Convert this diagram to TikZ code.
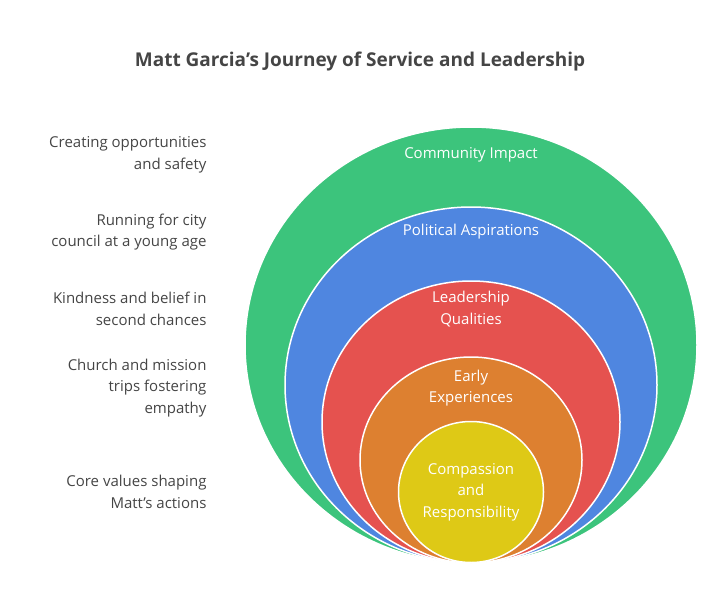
\documentclass[tikz,border=0pt]{standalone}
\usepackage{fontspec}
\setmainfont{Open Sans}
\usetikzlibrary{shapes.geometric}
\definecolor{ringgreen}{HTML}{3CC47C}
\definecolor{ringblue}{HTML}{4F86E0}
\definecolor{ringred}{HTML}{E5524F}
\definecolor{ringorange}{HTML}{DD8030}
\definecolor{ringyellow}{HTML}{DEC916}
\definecolor{txtgray}{HTML}{454545}
\begin{document}
\begin{tikzpicture}[x=1pt,y=-1pt]
	\tikzstyle{ring}=[ellipse,draw=white,line width=1.5pt,inner sep=0pt]
	\tikzstyle{inlabel}=[text=white,align=center,font=\fontsize{15}{21.5}\selectfont]
	\tikzstyle{sidelabel}=[text=txtgray,align=right,anchor=east,font=\fontsize{15}{21.5}\selectfont]
	\useasboundingbox (0,0) rectangle (720,610);

	\node [font=\bfseries\fontsize{19}{23}\selectfont,text=txtgray] (title) at (360,62) {Matt Garcia's Journey of Service and Leadership};

	% nested rings
	\node [ring,fill=ringgreen,minimum width=452pt,minimum height=436pt] (impact) at (471,345) {};
	\node [ring,fill=ringblue,minimum width=372pt,minimum height=356pt] (politics) at (471,385) {};
	\node [ring,fill=ringred,minimum width=298pt,minimum height=282pt] (leader) at (471,422) {};
	\node [ring,fill=ringorange,minimum width=222pt,minimum height=206pt] (early) at (471,460) {};
	\node [ring,fill=ringyellow,minimum width=145pt,minimum height=141pt] (core) at (471,492) {};

	\node [inlabel] (impactlbl) at (471,155) {Community Impact};
	\node [inlabel] (politicslbl) at (471,232) {Political Aspirations};
	\node [inlabel] (leaderlbl) at (471,309) {Leadership\\Qualities};
	\node [inlabel] (earlylbl) at (471,388) {Early\\Experiences};
	\node [inlabel] (corelbl) at (471,492) {Compassion\\and\\Responsibility};

	% descriptions
	\node [sidelabel] (impactdesc) at (210,155) {Creating opportunities\\and safety};
	\node [sidelabel] (politicsdesc) at (210,232) {Running for city\\council at a young age};
	\node [sidelabel] (leaderdesc) at (210,309) {Kindness and belief in\\second chances};
	\node [sidelabel] (earlydesc) at (210,388) {Church and mission\\trips fostering\\empathy};
	\node [sidelabel] (coredesc) at (210,492) {Core values shaping\\Matt's actions};
\end{tikzpicture}
\end{document}
